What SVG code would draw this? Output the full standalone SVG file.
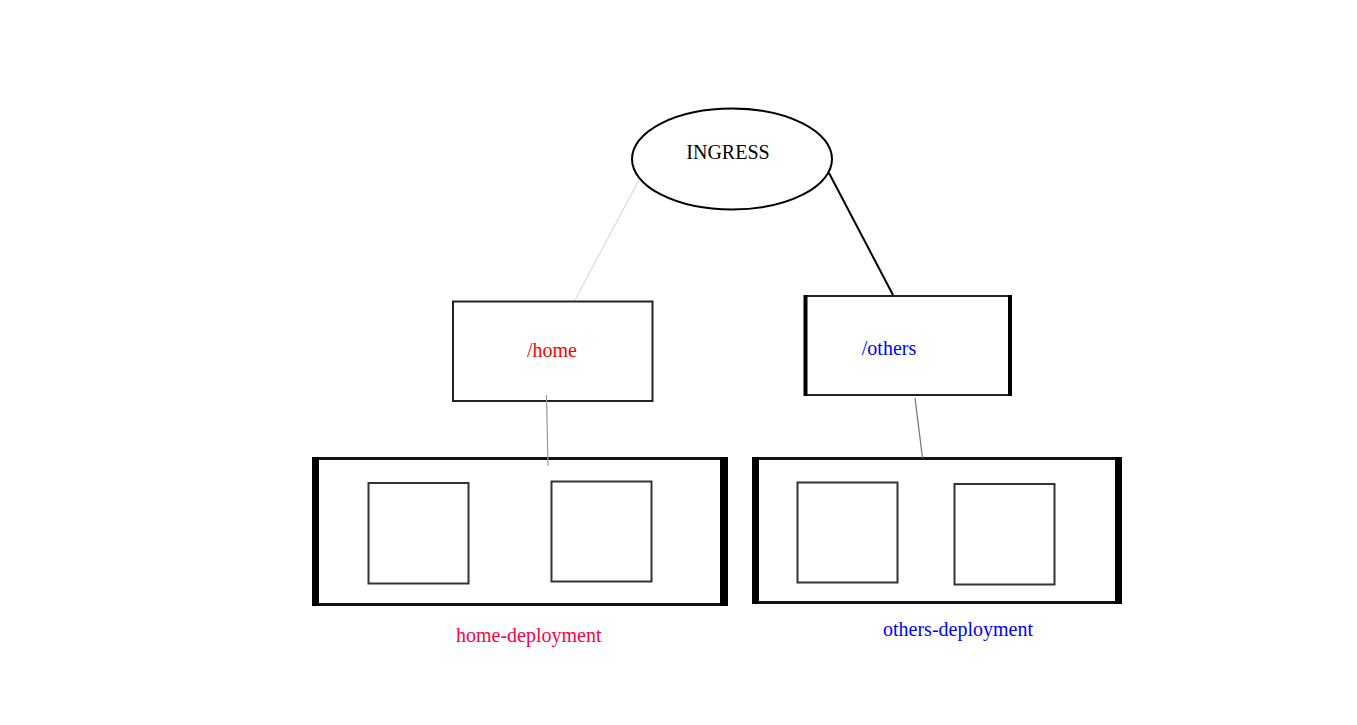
<svg xmlns="http://www.w3.org/2000/svg" width="1357" height="725" viewBox="0 0 1357 725">
<style>
  text { font-family: "Liberation Serif", "Times New Roman", serif; font-size: 20px; }
  .box { fill: #fff; stroke: #222; stroke-width: 2; }
  .pod { fill: #fff; stroke: #333; stroke-width: 2; }
  .frame { fill: #fff; stroke: #111; stroke-width: 3; }
  .bar { fill: #000; }
</style>
<rect width="1357" height="725" fill="#fff"/>
<g id="ingress">
  <ellipse cx="732" cy="159" rx="100" ry="50.5" fill="none" stroke="#000" stroke-width="2"/>
  <text x="728" y="159" text-anchor="middle">INGRESS</text>
</g>
<g id="home">
  <rect class="box" x="453" y="301.5" width="199.5" height="99.5"/>
  <text x="552" y="357" text-anchor="middle" fill="#ff0000">/home</text>
</g>
<g id="others">
  <rect class="box" x="805" y="296" width="205" height="99"/>
  <rect class="bar" x="803.5" y="295" width="4" height="101"/>
  <rect class="bar" x="1008" y="295" width="4" height="101"/>
  <text x="889" y="355" text-anchor="middle" fill="#0000ff">/others</text>
</g>
<g id="home-deployment">
  <rect class="frame" x="313.5" y="458.5" width="413" height="146"/>
  <rect class="bar" x="312" y="457" width="7" height="149"/>
  <rect class="bar" x="720" y="457" width="8" height="149"/>
  <rect class="pod" x="368.5" y="483" width="100" height="100.5"/>
  <rect class="pod" x="551.5" y="481.5" width="100" height="100"/>
  <text x="456" y="642" fill="#ff0044">home-deployment</text>
</g>
<g id="others-deployment">
  <rect class="frame" x="753.5" y="458.5" width="367" height="144"/>
  <rect class="bar" x="752" y="457" width="7" height="147"/>
  <rect class="bar" x="1115" y="457" width="7" height="147"/>
  <rect class="pod" x="797.5" y="482.5" width="100" height="100"/>
  <rect class="pod" x="954.5" y="484" width="100" height="100.5"/>
  <text x="883" y="636" fill="#0000ff">others-deployment</text>
</g>
<g id="connectors">
  <line x1="639" y1="180" x2="575" y2="300" stroke="#d0d0d0" stroke-width="1"/>
  <line x1="829" y1="173" x2="893" y2="295" stroke="#000" stroke-width="2"/>
  <line x1="546.5" y1="395" x2="548" y2="466" stroke="#999" stroke-width="1.2"/>
  <line x1="915" y1="398" x2="922.5" y2="458" stroke="#777" stroke-width="1.2"/>
</g>
</svg>
